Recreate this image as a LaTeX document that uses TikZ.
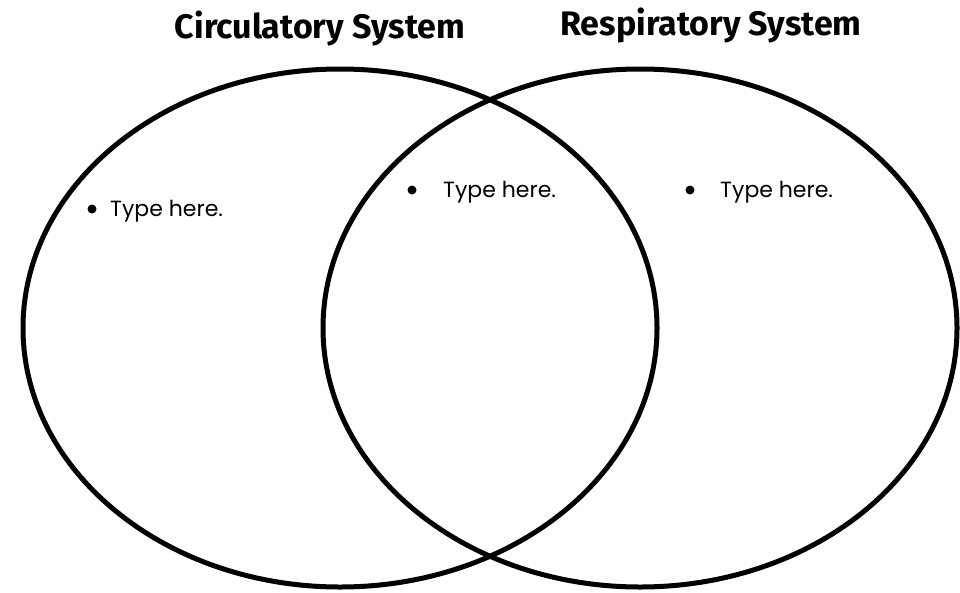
\documentclass[tikz,border=0pt]{standalone}
\usepackage{fontspec}
\setmainfont{Poppins}
\newfontfamily\headfont{Fira Sans Bold}
\usetikzlibrary{shapes.geometric}

\tikzset{
  setbox/.style={draw, ellipse, line width=5pt, minimum width=634pt, minimum height=518pt, inner sep=0pt},
  heading/.style={font=\headfont\fontsize{34}{34}\selectfont},
  entry/.style={anchor=base west, inner sep=0pt, font=\fontsize{22}{22}\selectfont},
  dot/.style={fill=black}
}

\begin{document}
\begin{tikzpicture}[x=1pt, y=-1pt]
    \useasboundingbox (0,0) rectangle (960,592);

    % Conjuntos
    \node[setbox] (circ) at (340,328) {};
    \node[setbox] (resp) at (640,328) {};

    % Titulos
    \node[heading] (circtitle) at (320,28) {Circulatory System};
    \node[heading] (resptitle) at (711,25) {Respiratory System};

    % Entradas
    \fill[dot] (92,209) circle (4.5);
    \node[entry] (circitem) at (110,216) {Type here.};
    \fill[dot] (412,190) circle (4.5);
    \node[entry] (bothitem) at (443,197) {Type here.};
    \fill[dot] (690,190) circle (4.5);
    \node[entry] (respitem) at (720,197) {Type here.};
\end{tikzpicture}
\end{document}
